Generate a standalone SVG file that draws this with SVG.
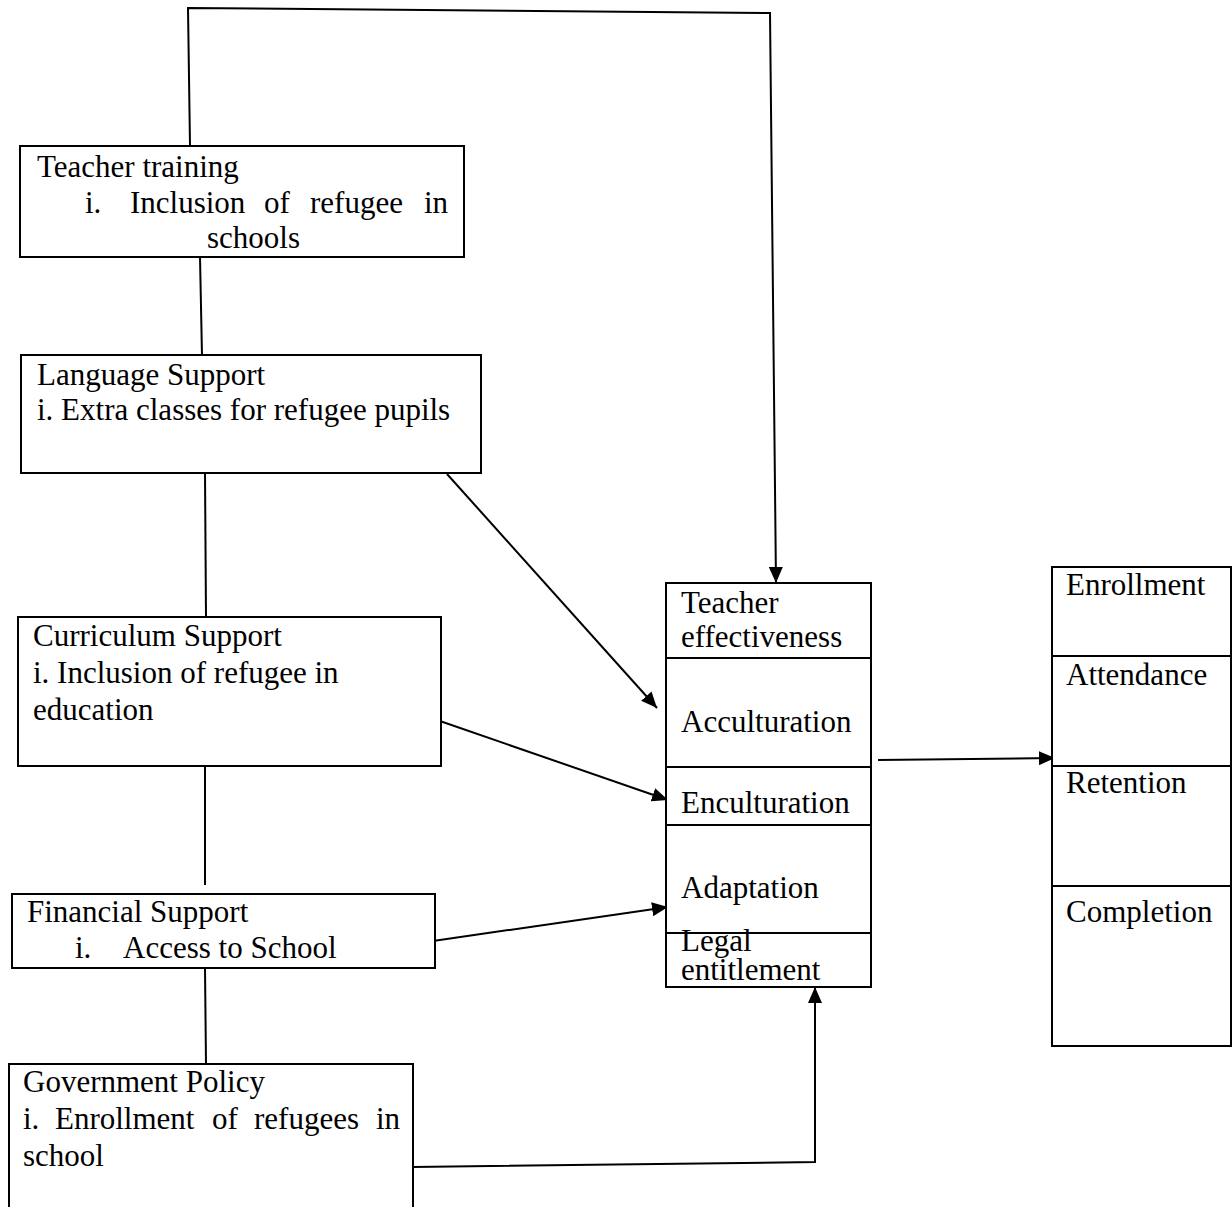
<svg xmlns="http://www.w3.org/2000/svg" width="1232" height="1207" viewBox="0 0 1232 1207">
<style>
.box{fill:#fff;stroke:#000;stroke-width:2}
.div{stroke:#000;stroke-width:2}
.con{fill:none;stroke:#000;stroke-width:2}
text{font-family:"Liberation Serif","Times New Roman",serif;font-size:31px;fill:#000}
</style>
<defs>
<marker id="ah" markerUnits="userSpaceOnUse" markerWidth="18" markerHeight="14" refX="16" refY="7" orient="auto">
<path d="M0,0 L16,7 L0,14 Z" fill="#000"/>
</marker>
</defs>
<rect width="1232" height="1207" fill="#fff"/>
<g id="connectors">
<path class="con" d="M190,146 L188,8 L770,13 L776,583" marker-end="url(#ah)"/>
<line class="con" x1="200" y1="257" x2="202" y2="356"/>
<line class="con" x1="205" y1="473" x2="206" y2="617"/>
<line class="con" x1="205" y1="766" x2="205" y2="885"/>
<line class="con" x1="205" y1="968" x2="206" y2="1064"/>
<line class="con" x1="447" y1="474" x2="657" y2="708" marker-end="url(#ah)"/>
<line class="con" x1="437" y1="720" x2="668" y2="800" marker-end="url(#ah)"/>
<line class="con" x1="433" y1="941" x2="668" y2="907" marker-end="url(#ah)"/>
<path class="con" d="M413,1167 L815,1162 L815,987" marker-end="url(#ah)"/>
<line class="con" x1="878" y1="760" x2="1055" y2="758" marker-end="url(#ah)"/>
</g>
<g id="teacher-training">
<rect class="box" x="20" y="146" width="444" height="111"/>
<text x="37" y="177">Teacher training</text>
<text y="213"><tspan x="85">i.</tspan><tspan x="130">Inclusion</tspan><tspan x="264">of</tspan><tspan x="310">refugee</tspan><tspan x="424">in</tspan></text>
<text x="207" y="248">schools</text>
</g>
<g id="language-support">
<rect class="box" x="21" y="355" width="460" height="118"/>
<text x="37" y="385">Language Support</text>
<text x="37" y="420">i. Extra classes for refugee pupils</text>
</g>
<g id="curriculum-support">
<rect class="box" x="18" y="617" width="423" height="149"/>
<text x="33" y="646">Curriculum Support</text>
<text x="33" y="683">i. Inclusion of refugee in</text>
<text x="33" y="720">education</text>
</g>
<g id="financial-support">
<rect class="box" x="12" y="894" width="423" height="74"/>
<text x="27" y="922">Financial Support</text>
<text y="958"><tspan x="75">i.</tspan><tspan x="123">Access to School</tspan></text>
</g>
<g id="government-policy">
<rect class="box" x="9" y="1064" width="404" height="160"/>
<text x="23" y="1092">Government Policy</text>
<text y="1129"><tspan x="23">i.</tspan><tspan x="55">Enrollment</tspan><tspan x="212">of</tspan><tspan x="254">refugees</tspan><tspan x="376">in</tspan></text>
<text x="23" y="1166">school</text>
</g>
<g id="mediators">
<rect class="box" x="666" y="583" width="205" height="404"/>
<line class="div" x1="666" y1="658" x2="871" y2="658"/>
<line class="div" x1="666" y1="767" x2="871" y2="767"/>
<line class="div" x1="666" y1="825" x2="871" y2="825"/>
<line class="div" x1="666" y1="933" x2="871" y2="933"/>
<text x="681" y="613">Teacher</text>
<text x="681" y="647">effectiveness</text>
<text x="681" y="732">Acculturation</text>
<text x="681" y="813">Enculturation</text>
<text x="681" y="898">Adaptation</text>
<text x="681" y="951">Legal</text>
<text x="681" y="980">entitlement</text>
</g>
<g id="outcomes">
<rect class="box" x="1052" y="567" width="179" height="479"/>
<line class="div" x1="1052" y1="656" x2="1231" y2="656"/>
<line class="div" x1="1052" y1="766" x2="1231" y2="766"/>
<line class="div" x1="1052" y1="886" x2="1231" y2="886"/>
<text x="1066" y="595">Enrollment</text>
<text x="1066" y="685">Attendance</text>
<text x="1066" y="793">Retention</text>
<text x="1066" y="922">Completion</text>
</g>
</svg>
